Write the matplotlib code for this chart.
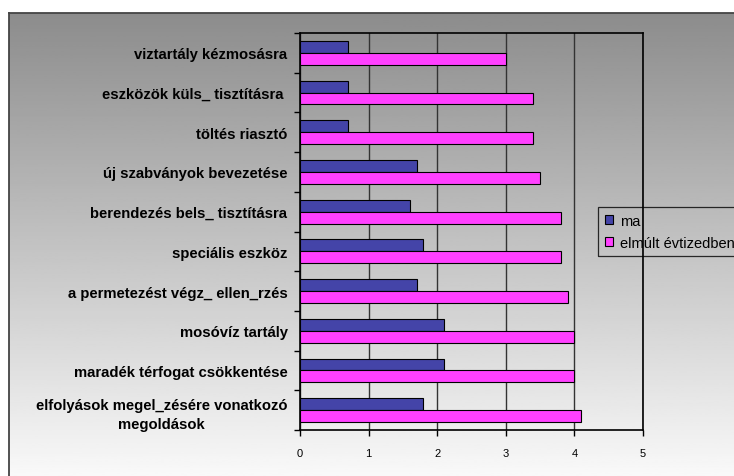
import numpy as np
import matplotlib.pyplot as plt
from matplotlib.patches import Patch

kategoriak = [
    "viztartály kézmosásra",
    "eszközök küls_ tisztításra ",
    "töltés riasztó",
    "új szabványok bevezetése",
    "berendezés bels_ tisztításra",
    "speciális eszköz",
    "a permetezést végz_ ellen_rzés",
    "mosóvíz tartály",
    "maradék térfogat csökkentése",
    "elfolyások megel_zésére vonatkozó\nmegoldások",
]
ma = [0.7, 0.7, 0.7, 1.7, 1.6, 1.8, 1.7, 2.1, 2.1, 1.8]
elmult = [3.0, 3.4, 3.4, 3.5, 3.8, 3.8, 3.9, 4.0, 4.0, 4.1]
sorozatok = ["ma", "elmúlt évtizedben"]
szinek = ["#4444a8", "#ff40ff"]

plt.rcParams['font.family'] = ['Liberation Sans', 'DejaVu Sans']

fig = plt.figure(figsize=(7.34, 4.77), dpi=100)

# szürke átmenetes háttér a keret belsejében (jobb és alsó széle a képen kívül)
W, H = 734, 477
bg = fig.add_axes([9 / W, -0.02, 1.02, 1.02 - 14 / H], zorder=-10)
grad = np.linspace(0.55, 0.985, 256).reshape(-1, 1)
bg.imshow(grad, cmap='gray', vmin=0, vmax=1, aspect='auto', extent=[0, 1, 0, 1])
bg.set_xticks([])
bg.set_yticks([])
for s in bg.spines.values():
    s.set_color('#444444')
    s.set_linewidth(1.3)

ax = fig.add_axes([300 / W, 1 - 431 / H, 343 / W, 397 / H])
ax.patch.set_alpha(0)

y = np.arange(len(kategoriak))
h = 0.3
ax.barh(y - h / 2, ma, height=h, color=szinek[0], edgecolor='black', linewidth=0.8, zorder=3)
ax.barh(y + h / 2, elmult, height=h, color=szinek[1], edgecolor='black', linewidth=0.8, zorder=3)

ax.set_xlim(0, 5)
ax.set_ylim(len(kategoriak) - 0.5, -0.5)
ax.set_xticks(range(6))
ax.set_xticklabels([str(i) for i in range(6)], fontsize=8)
ax.tick_params(axis='x', direction='out', length=4, width=1, pad=9)
ax.xaxis.grid(True, color='#333333', linewidth=1, zorder=0)
ax.set_axisbelow(True)

ax.set_yticks(y)
ax.set_yticklabels(kategoriak, fontsize=10.7, fontweight='bold',
                   multialignment='center', linespacing=1.45)
ax.tick_params(axis='y', which='major', length=0, pad=9)
ax.set_yticks(np.arange(-0.5, len(kategoriak)), minor=True)
ax.tick_params(axis='y', which='minor', direction='out', length=4, width=1)

for s in ax.spines.values():
    s.set_color('black')
    s.set_linewidth(1.2)

handles = [Patch(facecolor=c, edgecolor='black', linewidth=0.8) for c in szinek]
leg = fig.legend(handles, sorozatok, loc='upper left', bbox_to_anchor=(598 / W, 1 - 208 / H),
                 fontsize=10.5, frameon=True, fancybox=False, handlelength=0.55, handleheight=0.55,
                 handletextpad=0.5, borderpad=0.45, labelspacing=0.55, borderaxespad=0)
leg.get_frame().set_facecolor('none')
leg.get_frame().set_edgecolor('black')
leg.get_frame().set_linewidth(0.9)

fig.savefig("out.png", dpi=100)
